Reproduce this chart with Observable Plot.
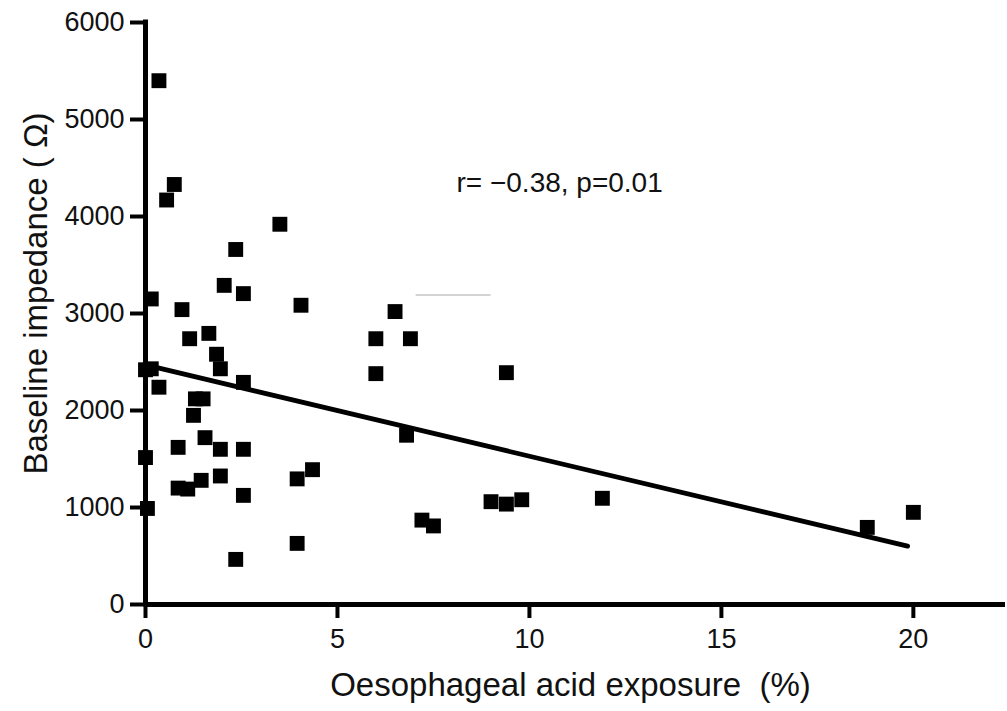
<!DOCTYPE html>
<html><head><meta charset="utf-8">
<script src="https://cdn.jsdelivr.net/npm/d3@7"></script>
<script src="https://cdn.jsdelivr.net/npm/@observablehq/plot@0.6"></script>
<style>body{margin:0;background:#fff}</style>
</head><body><div id="chart"></div>
<script>
// Oesophageal acid exposure (%) per patient
const acidExposure = [0.35, 0.75, 0.55, 3.5, 2.35, 2.05, 2.55, 0.15, 0.95, 4.05,
  6.5, 1.15, 1.65, 6.0, 6.9, 1.85, 1.95, 0.0, 0.15, 6.0,
  9.4, 0.35, 2.55, 1.3, 1.5, 1.25, 1.55, 1.95, 2.55, 0.85,
  0.0, 1.95, 1.45, 0.85, 1.1, 2.55, 0.05, 6.8, 4.35, 3.95,
  3.95, 2.35, 7.2, 7.5, 9.0, 9.4, 9.8, 11.9, 18.8, 20.0];
// Baseline impedance (Ω) per patient
const impedance = [5400, 4330, 4170, 3920, 3660, 3290, 3205, 3150, 3040, 3085,
  3020, 2740, 2795, 2740, 2740, 2580, 2430, 2420, 2430, 2380,
  2390, 2240, 2290, 2120, 2120, 1950, 1720, 1600, 1600, 1620,
  1515, 1325, 1280, 1200, 1190, 1125, 990, 1745, 1390, 1295,
  630, 465, 870, 810, 1060, 1035, 1080, 1095, 795, 950];
// regression line end points
const fitX = [0, 19.85];
const fitY = [2470, 602];
const xTicks = [0, 5, 10, 15, 20];
const yTicks = [0, 1000, 2000, 3000, 4000, 5000, 6000];
const xTitle = "Oesophageal acid exposure\u00a0 (%)";
const yTitle = "Baseline impedance ( \u03a9)";
const annotationText = ["r= \u22120.38, p=0.01"];
const annotationX = [8.1];
const annotationY = [4340];
// faint grey stroke present in the source image
const faintX1 = [7.05], faintX2 = [9.0], faintY = [3190];

const points = acidExposure.map((x, i) => ({x, y: impedance[i]}));
const fit = fitX.map((x, i) => ({x, y: fitY[i]}));
const notes = annotationText.map((t, i) => ({t, x: annotationX[i], y: annotationY[i]}));
const faint = faintY.map((y, i) => ({x1: faintX1[i], x2: faintX2[i], y}));
const font = "'Liberation Sans', Arial, Helvetica, sans-serif";

const chart = Plot.plot({
  width: 1007,
  height: 711,
  marginLeft: 145,
  marginRight: 2,
  marginTop: 22,
  marginBottom: 107,
  style: {fontFamily: font, background: "white", color: "#111"},
  x: {domain: [0, 22.4], axis: null},
  y: {domain: [0, 6000], axis: null},
  marks: [
    Plot.ruleY(faint, {x1: "x1", x2: "x2", y: "y", stroke: "#c4c4c4", strokeWidth: 1.5}),
    Plot.line(fit, {x: "x", y: "y", stroke: "#000", strokeWidth: 4.8}),
    Plot.dot(points, {x: "x", y: "y", symbol: "square", r: 8.4, fill: "#000", stroke: null}),
    Plot.ruleX([0], {stroke: "#000", strokeWidth: 5, strokeLinecap: "square"}),
    Plot.ruleY([0], {stroke: "#000", strokeWidth: 5}),
    Plot.axisX({ticks: xTicks, tickSize: 14, tickPadding: 10, fontSize: 27, strokeWidth: 4,
      stroke: "#000", label: null, tickFormat: d3.format("d")}),
    Plot.axisY({ticks: yTicks, tickSize: 15, tickPadding: 6, fontSize: 27, strokeWidth: 4,
      stroke: "#000", label: null, tickFormat: d3.format("d")}),
    Plot.text(notes, {x: "x", y: "y", text: "t", textAnchor: "start", fontSize: 28, fill: "#111"}),
    Plot.text([xTitle], {frameAnchor: "bottom", textAnchor: "middle", dy: 91, dx: -5, fontSize: 33, fill: "#111"}),
    Plot.text([yTitle], {frameAnchor: "left", textAnchor: "middle", rotate: -90, dx: -109, dy: -20, fontSize: 33, fill: "#111"})
  ]
});
document.getElementById("chart").appendChild(chart);
</script>
</body></html>
